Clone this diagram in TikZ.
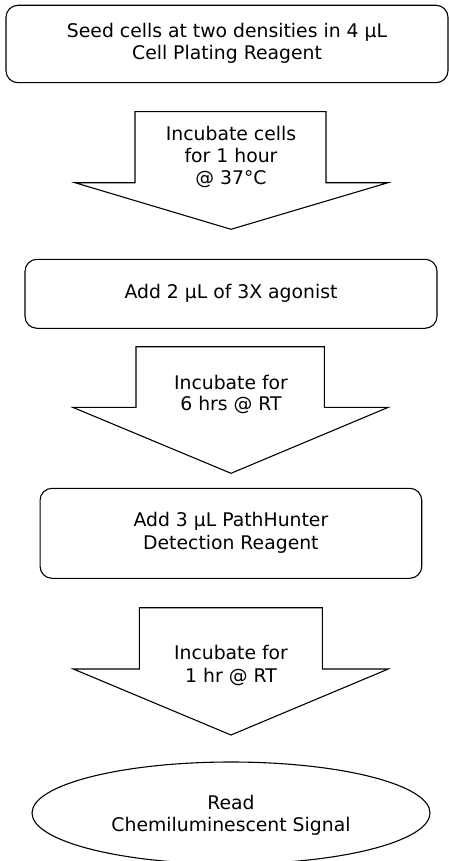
\documentclass[tikz,border=0pt]{standalone}
\usepackage{fontspec}
\setmainfont{DejaVu Sans}
\usetikzlibrary{shapes.geometric}
\begin{document}
\begin{tikzpicture}[x=1pt,y=1pt,
  every node/.style={align=center, inner sep=0pt, outer sep=0pt},
  lab/.style={font=\fontsize{18.8}{#1}\selectfont},
  lab/.default=22,
  stepbox/.style={draw, line width=1.1pt, rounded corners=12pt},
  blockarrow/.style={draw, line width=1.1pt, line join=miter},
  endoval/.style={draw, line width=1.1pt, ellipse}]
\useasboundingbox (0,0) rectangle (449,-861);

% step boxes
\node[stepbox, lab, minimum width=442pt, minimum height=77.4pt] (box1) at (227,-44)
  {\strut Seed cells at two densities in 4 μL\\Cell Plating Reagent\strut};
\node[stepbox, lab, minimum width=412pt, minimum height=69pt] (box2) at (231,-293.8)
  {\strut Add 2 μL of 3X agonist\strut};
\node[stepbox, lab=23, minimum width=381.7pt, minimum height=90pt] (box3) at (230.9,-533.3)
  {\strut Add 3 μL PathHunter\\Detection Reagent\strut};

% block arrows
\draw[blockarrow] (135,-111.7) -- (326,-111.7) -- (326,-182.7) -- (388,-182.7)
  -- (231,-229.3) -- (75,-182.7) -- (135,-182.7) -- cycle;
\node[lab] (arr1) at (231,-158.3) {\strut Incubate cells\\for 1 hour\\@ 37°C\strut};

\draw[blockarrow] (136,-346.7) -- (324.3,-346.7) -- (324.3,-407.3) -- (388.3,-407.3)
  -- (231,-473.3) -- (72.7,-407.3) -- (136,-407.3) -- cycle;
\node[lab=18] (arr2) at (231,-395.4) {\strut Incubate for\\6 hrs @ RT\strut};

\draw[blockarrow] (139.3,-607.7) -- (322.3,-607.7) -- (322.3,-669) -- (388.3,-669)
  -- (231,-735) -- (73.3,-669) -- (139.3,-669) -- cycle;
\node[lab=23] (arr3) at (231,-665.9) {\strut Incubate for\\1 hr @ RT\strut};

% final oval
\node[endoval, minimum width=398pt, minimum height=102pt] (oval) at (231,-813) {};
\node[lab] (ovaltext) at (231,-815.6) {\strut Read\\Chemiluminescent Signal\strut};
\end{tikzpicture}
\end{document}
